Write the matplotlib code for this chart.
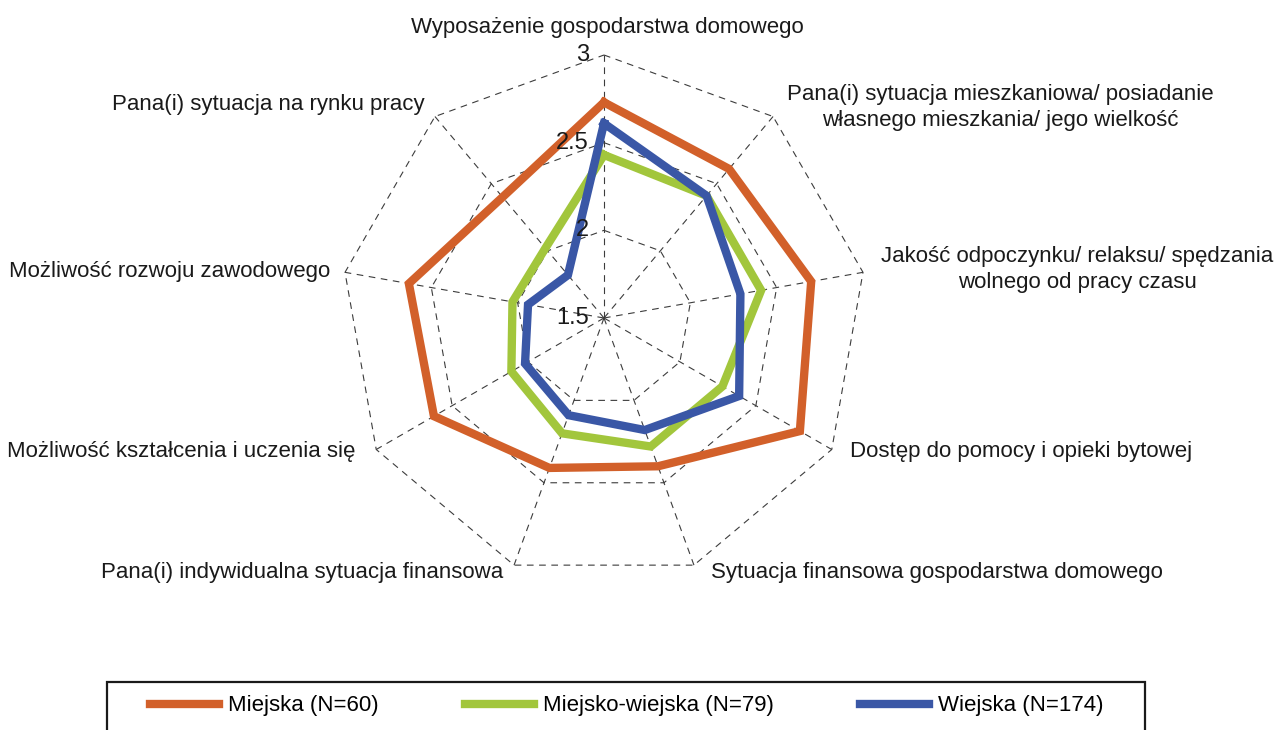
import numpy as np
import matplotlib
matplotlib.use('Agg')
import matplotlib.pyplot as plt
from matplotlib.patches import Rectangle

plt.rcParams['font.family'] = ['Liberation Sans', 'DejaVu Sans']

# axis labels, clockwise from the top
categories = [
    'Wyposażenie gospodarstwa domowego',
    'Pana(i) sytuacja mieszkaniowa/ posiadanie\nwłasnego mieszkania/ jego wielkość',
    'Jakość odpoczynku/ relaksu/ spędzania\nwolnego od pracy czasu',
    'Dostęp do pomocy i opieki bytowej',
    'Sytuacja finansowa gospodarstwa domowego',
    'Pana(i) indywidualna sytuacja finansowa',
    'Możliwość kształcenia i uczenia się',
    'Możliwość rozwoju zawodowego',
    'Pana(i) sytuacja na rynku pracy',
]
miejska = [2.73, 2.61, 2.70, 2.79, 2.40, 2.41, 2.62, 2.63, 2.40]
miejsko_wiejska = [2.43, 2.41, 2.41, 2.28, 2.28, 2.20, 2.11, 2.03, 2.02]
wiejska = [2.61, 2.41, 2.29, 2.39, 2.18, 2.09, 2.02, 1.94, 1.82]
series_names = ['Miejska (N=60)', 'Miejsko-wiejska (N=79)', 'Wiejska (N=174)']
ticks = [1.5, 2.0, 2.5, 3.0]
tick_labels = ['1.5', '2', '2.5', '3']

colors = ['#D2602A', '#A2C63C', '#3A57A6']

n = len(categories)
theta = np.arange(n) * 2 * np.pi / n
theta_c = np.append(theta, theta[0])

fig = plt.figure(figsize=(12.75, 7.3), dpi=100)
# centre at (604, 318) px, outer ring radius 263 px
ax = fig.add_axes([341 / 1275, 149 / 730, 526 / 1275, 526 / 730], projection='polar')
ax.set_theta_zero_location('N')
ax.set_theta_direction(-1)
ax.set_ylim(1.5, 3.0)
ax.grid(False)
ax.spines['polar'].set_visible(False)
ax.set_xticks([])
ax.set_yticks([])
ax.patch.set_visible(False)

grid_kw = dict(color='#3c3c3c', lw=0.8, dashes=(6, 5), clip_on=False, zorder=1)
for r in ticks[1:]:
    ax.plot(theta_c, [r] * (n + 1), **grid_kw)
for t in theta:
    ax.plot([t, t], [1.5, 3.0], **grid_kw)

lines = []
for vals, c, name in zip([miejska, miejsko_wiejska, wiejska], colors, series_names):
    v = np.append(vals, vals[0])
    ln, = ax.plot(theta_c, v, color=c, lw=6, solid_joinstyle='miter',
                  clip_on=False, zorder=3, label=name)
    lines.append(ln)

# tick labels along the top spoke
for r, lab in zip(ticks, tick_labels):
    ax.annotate(lab, xy=(0, r), xytext=(-15, 0), textcoords='offset pixels',
                ha='right', va='center', fontsize=17, color='#1a1a1a',
                annotation_clip=False, zorder=4)

# category labels (offsets in pixels from the outer vertex)
offsets = [(3, 28, 'center'), (227, 9, 'center'), (214, 3, 'center'),
           (18, -2, 'left'), (17, -7, 'left'), (-11, -7, 'right'),
           (-21, -2, 'right'), (-15, 1, 'right'), (-10, 12, 'right')]
for t, lab, (dx, dy, ha) in zip(theta, categories, offsets):
    ax.annotate(lab, xy=(t, 3.0), xytext=(dx, dy), textcoords='offset pixels',
                ha=ha, va='center', multialignment='center', fontsize=16,
                color='#1a1a1a', annotation_clip=False, linespacing=1.3)

# legend box
fig.patches.append(Rectangle((107 / 1275, -0.02), (1145 - 107) / 1275, 0.02 + (730 - 682) / 730,
                             transform=fig.transFigure, fill=False,
                             edgecolor='#1a1a1a', lw=1.6))
fig.legend(handles=lines, loc='center left', bbox_to_anchor=(150 / 1275, 1 - 706 / 730),
           ncol=3, frameon=False, fontsize=16, handlelength=3.1, handletextpad=0.4,
           columnspacing=3.9, borderpad=0, borderaxespad=0)

fig.savefig('out.png', dpi=100)
